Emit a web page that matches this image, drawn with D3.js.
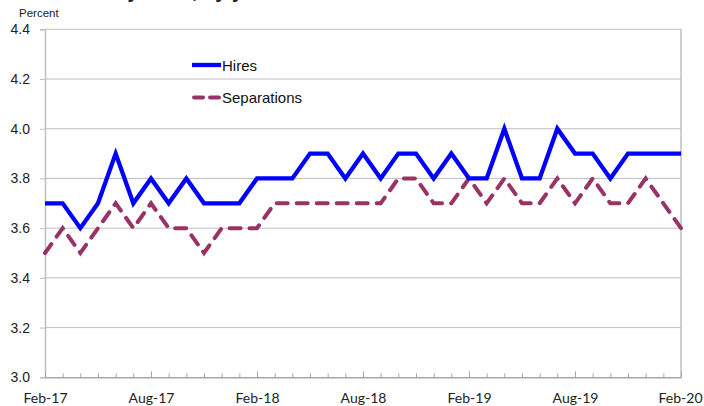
<!DOCTYPE html>
<html><head><meta charset="utf-8">
<script src="https://cdn.jsdelivr.net/npm/d3@7"></script>
<style>body{margin:0;background:#fff}svg{display:block}</style>
</head><body>
<svg id="c" width="704" height="406"></svg>
<script>
const months = ["Feb-17","Mar-17","Apr-17","May-17","Jun-17","Jul-17","Aug-17","Sep-17","Oct-17","Nov-17","Dec-17","Jan-18",
"Feb-18","Mar-18","Apr-18","May-18","Jun-18","Jul-18","Aug-18","Sep-18","Oct-18","Nov-18","Dec-18","Jan-19",
"Feb-19","Mar-19","Apr-19","May-19","Jun-19","Jul-19","Aug-19","Sep-19","Oct-19","Nov-19","Dec-19","Jan-20","Feb-20"];
const hires = [3.7,3.7,3.6,3.7,3.9,3.7,3.8,3.7,3.8,3.7,3.7,3.7,
3.8,3.8,3.8,3.9,3.9,3.8,3.9,3.8,3.9,3.9,3.8,3.9,
3.8,3.8,4.0,3.8,3.8,4.0,3.9,3.9,3.8,3.9,3.9,3.9,3.9];
const separations = [3.5,3.6,3.5,3.6,3.7,3.6,3.7,3.6,3.6,3.5,3.6,3.6,
3.6,3.7,3.7,3.7,3.7,3.7,3.7,3.7,3.8,3.8,3.7,3.7,
3.8,3.7,3.8,3.7,3.7,3.8,3.7,3.8,3.7,3.7,3.8,3.7,3.6];
const xLabels = ["Feb-17","Aug-17","Feb-18","Aug-18","Feb-19","Aug-19","Feb-20"];
const yTicks = [3.0,3.2,3.4,3.6,3.8,4.0,4.2,4.4];
const seriesNames = ["Hires","Separations"];

const svg = d3.select("#c");
const L = 45, R = 681, T = 29.3, B = 377.3;
const x = d3.scaleLinear().domain([0, months.length - 1]).range([L, R]);
const y = d3.scaleLinear().domain([3.0, 4.4]).range([B, T]);
const grey = "#bfbfbf";

// title (mostly cut off at the top edge, as in the reference)
svg.append("text").attr("x", 62).attr("y", -2)
  .attr("font-family", "Liberation Sans, Arial, sans-serif").attr("font-weight", "bold")
  .attr("font-size", 20).attr("fill", "#222").text("Monthly hires, by year");

// gridlines
svg.append("g").selectAll("line").data(yTicks.filter(d => d > 3.0)).join("line")
  .attr("x1", L).attr("x2", R).attr("y1", d => y(d)).attr("y2", d => y(d))
  .attr("stroke", grey).attr("stroke-width", 1);
// right border
svg.append("line").attr("x1", R).attr("x2", R).attr("y1", T).attr("y2", B).attr("stroke", grey).attr("stroke-width", 1.5);

// y axis
const ya = svg.append("g").attr("transform", `translate(${L},0)`)
  .call(d3.axisLeft(y).tickValues(yTicks).tickFormat(d3.format(".1f")).tickSize(5).tickPadding(10));
ya.select(".domain").attr("stroke", grey).attr("stroke-width", 1.5);
ya.selectAll(".tick line").attr("stroke", grey);
ya.selectAll(".tick text").attr("font-family", "Liberation Sans, Arial, sans-serif").attr("font-size", 14).attr("fill", "#222");

// x axis
const xa = svg.append("g").attr("transform", `translate(0,${B})`)
  .call(d3.axisBottom(x).tickValues(d3.range(months.length))
    .tickFormat(i => xLabels.includes(months[i]) ? months[i] : "")
    .tickSizeInner(-4).tickSizeOuter(0).tickPadding(16));
xa.select(".domain").attr("stroke", "#a6a6a6").attr("stroke-width", 1.5);
xa.selectAll(".tick line").attr("stroke", "#a6a6a6")
  .attr("y2", i => xLabels.includes(months[i]) ? -6 : -4);
xa.selectAll(".tick text").attr("font-family", "Lato, Carlito, sans-serif").attr("font-size", 14).attr("fill", "#222");
xa.selectAll(".tick text").filter(i => i === months.length - 1).attr("text-anchor", "end").attr("dx", 21);

// Percent label
svg.append("text").attr("x", 19).attr("y", 17)
  .attr("font-family", "Liberation Sans, Arial, sans-serif").attr("font-size", 11.5).attr("fill", "#222").text("Percent");

const line = d3.line().x((d, i) => x(i)).y(d => y(d));
const sepColor = "#993366", hireColor = "#0000ff";
svg.append("path").datum(separations).attr("d", line).attr("fill", "none")
  .attr("stroke", sepColor).attr("stroke-width", 4).attr("stroke-dasharray", "11,9").attr("stroke-linecap", "round");
svg.append("path").datum(hires).attr("d", line).attr("fill", "none")
  .attr("stroke", hireColor).attr("stroke-width", 4.3).attr("stroke-linejoin", "miter");

// legend
const lg = svg.append("g").attr("font-family", "Liberation Sans, Arial, sans-serif").attr("font-size", 15).attr("fill", "#111");
const legY = [65, 97.5];
lg.append("line").attr("x1", 192).attr("x2", 221).attr("y1", legY[0]).attr("y2", legY[0])
  .attr("stroke", hireColor).attr("stroke-width", 4.3);
lg.append("line").attr("x1", 194).attr("x2", 219).attr("y1", legY[1]).attr("y2", legY[1])
  .attr("stroke", sepColor).attr("stroke-width", 4).attr("stroke-dasharray", "9,7").attr("stroke-linecap", "round");
lg.selectAll("text").data(seriesNames).join("text")
  .attr("x", 222).attr("y", (d, i) => legY[i] + 5.5).text(d => d);
</script>
</body></html>
